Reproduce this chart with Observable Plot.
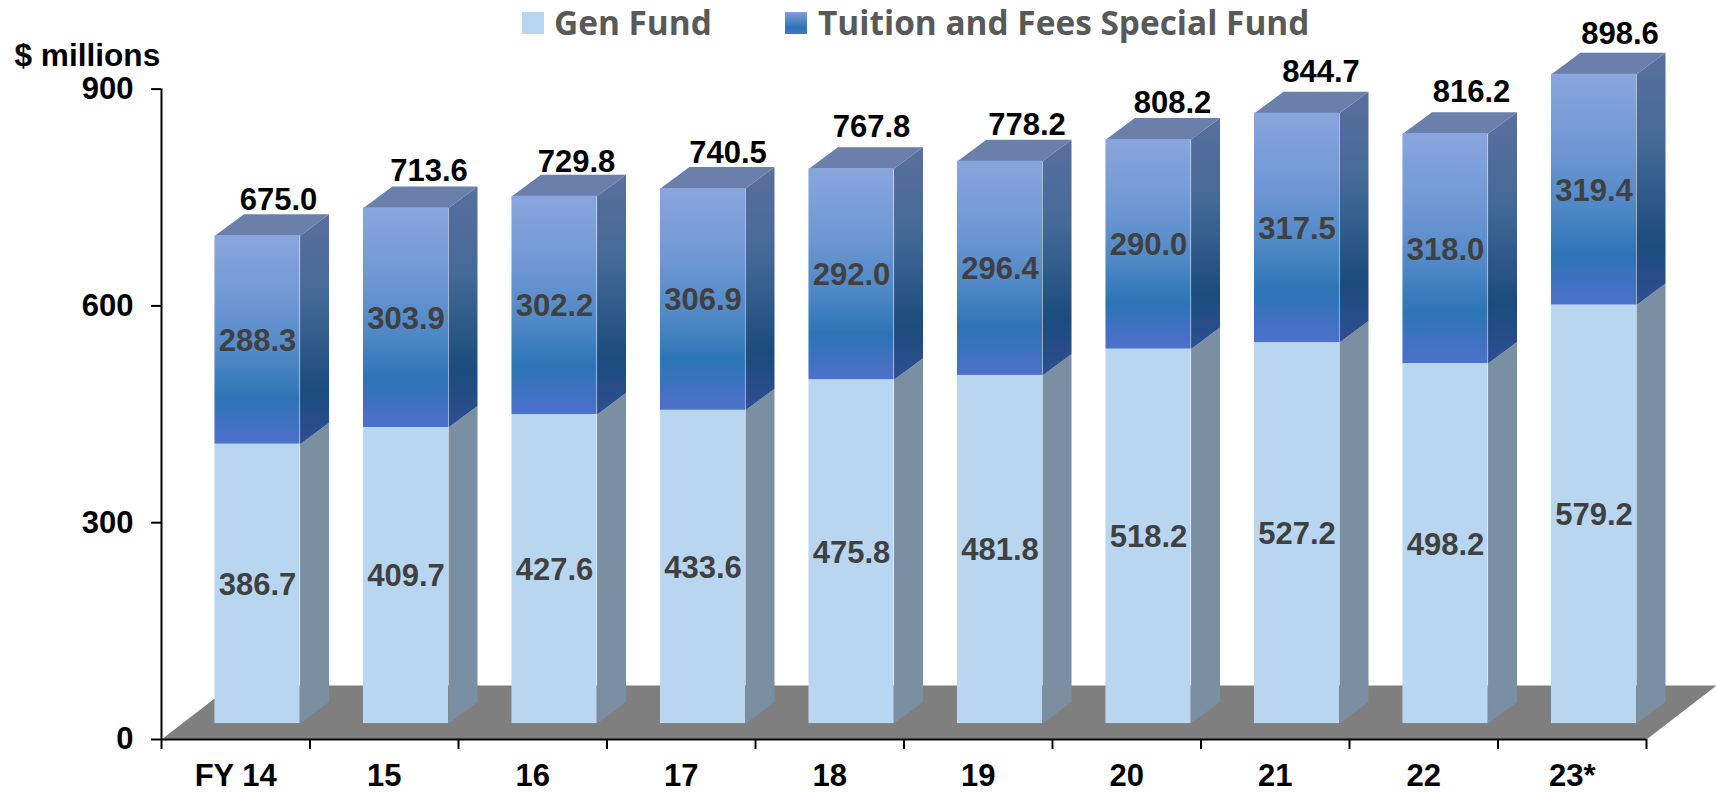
<!DOCTYPE html>
<html>
<head>
<meta charset="utf-8">
<script src="https://cdn.jsdelivr.net/npm/d3@7"></script>
<script src="https://cdn.jsdelivr.net/npm/@observablehq/plot@0.6"></script>
<style>
html,body{margin:0;padding:0;background:#fff;width:1716px;height:793px;overflow:hidden}
#wrap{position:relative;width:1716px;height:793px}
#legend{position:absolute;left:0;top:0;width:1716px;height:44px;font:700 33.4px "Open Sans",sans-serif;color:#595959}
#legend span{position:absolute;top:0;line-height:44px;white-space:nowrap}
#legend i{position:absolute;top:12px;width:22px;height:22px;display:block}
</style>
</head>
<body>
<div id="wrap">
<div id="legend">
  <i style="left:522px;background:#b9d6f0"></i><span style="left:554px">Gen Fund</span>
  <i style="left:785px;background:linear-gradient(#7f9fda,#2c75b5 70%,#4a70c8)"></i><span style="left:818px">Tuition and Fees Special Fund</span>
</div>
<div id="chart"></div>
</div>
<script>
const years = ["FY 14","15","16","17","18","19","20","21","22","23*"];
const genFund = [386.7,409.7,427.6,433.6,475.8,481.8,518.2,527.2,498.2,579.2];
const tuition = [288.3,303.9,302.2,306.9,292.0,296.4,290.0,317.5,318.0,319.4];
const totals  = [675.0,713.6,729.8,740.5,767.8,778.2,808.2,844.7,816.2,898.6];
const yTicks  = [0,300,600,900];

// 3D look of the bars, in scale units
const barLeft = 0.36, barRight = 0.933;   // front face within a category slot
const depthX = 0.195, depthY = 29.75;     // extrusion of a bar
const lift = 22;                          // front base sits above the axis
const floorX = 0.4714, floorY = 74.7;     // extrusion of the floor
// small px nudges of the total labels, as placed in the original
const totalDx = [21,23,22,25,20,27,24,24,26,26];
const totalDy = [-14,-15,-13,-14,-20,-15,-15,-20,-20,-19];

const font = "Liberation Sans, Arial, sans-serif";
const idx = years.map((_, i) => i);

function poly(id, pts){ return pts.map(([x,y]) => ({id,x,y})); }
function side(i, a, b){
  const r = i + barRight;
  return poly(`s${i}-${a}`, [[r,a+lift],[r+depthX,a+lift+depthY],[r+depthX,b+lift+depthY],[r,b+lift]]);
}
const sidesLow = idx.flatMap(i => side(i,0,genFund[i]));
const sidesHigh = idx.flatMap(i => side(i,genFund[i],totals[i]));
const tops = idx.flatMap(i => {
  const l=i+barLeft, r=i+barRight, t=totals[i]+lift;
  return poly(`t${i}`, [[l,t],[r,t],[r+depthX,t+depthY],[l+depthX,t+depthY]]);
});
const floor = poly("floor", [[0,0],[10,0],[10+floorX,floorY],[floorX,floorY]]);

function defs(){
  const NS="http://www.w3.org/2000/svg";
  const d=document.createElementNS(NS,"defs");
  const mk=(id,stops)=>{
    const g=document.createElementNS(NS,"linearGradient");
    g.setAttribute("id",id);g.setAttribute("x1",0);g.setAttribute("x2",0);g.setAttribute("y1",0);g.setAttribute("y2",1);
    for(const [o,c] of stops){
      const s=document.createElementNS(NS,"stop");
      s.setAttribute("offset",o);s.setAttribute("stop-color",c);g.appendChild(s);
    }
    d.appendChild(g);
  };
  mk("frontG",[[0,"#8aa5de"],[0.3,"#7199d4"],[0.58,"#4f88c6"],[0.78,"#2c75b5"],[0.95,"#4770c6"],[1,"#4c72ca"]]);
  mk("sideG",[[0,"#5a6f9e"],[0.35,"#456a97"],[0.76,"#1b4c7c"],[1,"#2f4e92"]]);
  return d;
}

const txt = {fontFamily:font,fontWeight:700,fontSize:31};

const chart = Plot.plot({
  width:1716,height:793,
  marginLeft:161,marginRight:70,marginTop:88.6,marginBottom:54,
  style:{background:"#fff",overflow:"visible"},
  x:{type:"linear",domain:[0,10]},
  y:{domain:[0,900]},
  marks:[
    defs,
    Plot.line(floor,{x:"x",y:"y",z:"id",fill:"#7f7f7f",stroke:"none"}),
    Plot.line(sidesLow,{x:"x",y:"y",z:"id",fill:"#7b8fa3",stroke:"none"}),
    Plot.line(sidesHigh,{x:"x",y:"y",z:"id",fill:"url(#sideG)",stroke:"none"}),
    Plot.line(tops,{x:"x",y:"y",z:"id",fill:"#6a7fa9",stroke:"none"}),
    Plot.rect(idx,{x1:i=>i+barLeft,x2:i=>i+barRight,y1:()=>lift,y2:i=>genFund[i]+lift,fill:"#b9d6f0"}),
    Plot.rect(idx,{x1:i=>i+barLeft,x2:i=>i+barRight,y1:i=>genFund[i]+lift,y2:i=>totals[i]+lift,fill:"url(#frontG)"}),
    Plot.text(idx,{x:i=>i+(barLeft+barRight)/2,y:i=>genFund[i]/2+lift,text:i=>genFund[i].toFixed(1),dy:1,fill:"#404040",...txt}),
    Plot.text(idx,{x:i=>i+(barLeft+barRight)/2,y:i=>genFund[i]+tuition[i]/2+lift,text:i=>tuition[i].toFixed(1),dy:1,fill:"#404040",...txt}),
    ...idx.map(i=>Plot.text([i],{x:j=>j+(barLeft+barRight)/2,y:j=>totals[j]+lift+depthY,text:j=>totals[j].toFixed(1),dx:totalDx[i],dy:totalDy[i],fill:"#000",...txt})),
    Plot.ruleY([0],{stroke:"#000",strokeWidth:2}),
    Plot.ruleX([0],{stroke:"#000",strokeWidth:2}),
    Plot.axisY({ticks:yTicks,tickSize:10,tickPadding:18,label:null,stroke:"#000",strokeWidth:2,color:"#000",...txt}),
    Plot.axisX({ticks:d3.range(0,11),tickSize:10,tickFormat:()=>"",label:null,stroke:"#000",strokeWidth:2}),
    Plot.axisX(idx.map(i=>i+0.5),{tickSize:0,tickPadding:24,label:null,tickFormat:d=>years[Math.floor(d)],color:"#000",...txt}),
    Plot.text(["$ millions"],{frameAnchor:"top-left",dx:-147,dy:-33,lineAnchor:"middle",textAnchor:"start",fill:"#000",fontFamily:font,fontWeight:700,fontSize:31.6})
  ]
});
document.getElementById("chart").appendChild(chart);
</script>
</body>
</html>
